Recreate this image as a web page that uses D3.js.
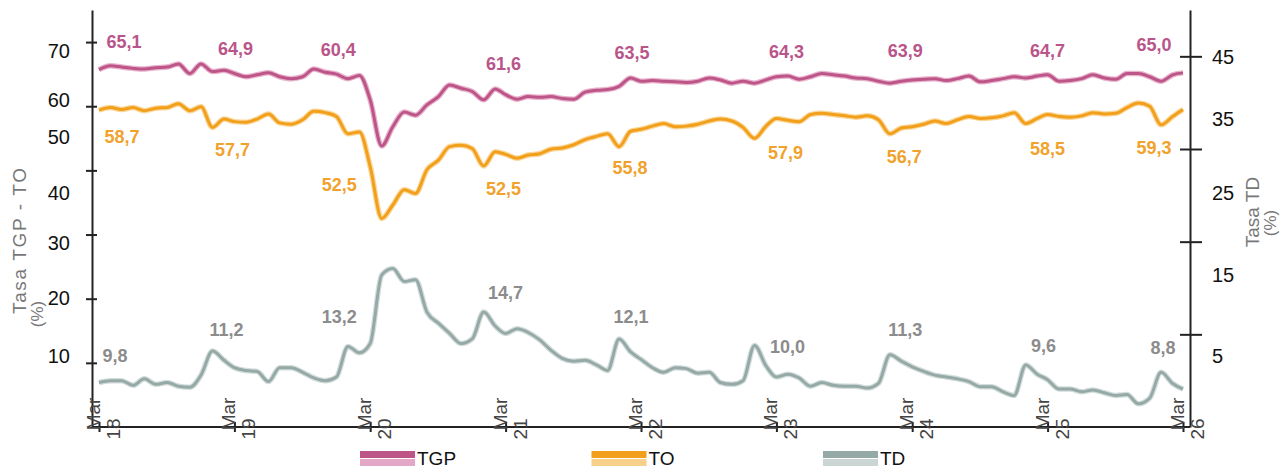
<!DOCTYPE html>
<html>
<head>
<meta charset="utf-8">
<script src="https://cdn.jsdelivr.net/npm/d3@7"></script>
<style>
body { margin: 0; background: #fff; }
svg { display: block; font-family: "Liberation Sans", Arial, sans-serif; }
</style>
</head>
<body>
<script>
// monthly series, Mar 2018 .. Mar 2026
var tgp = [65.7, 66.3, 66.1, 65.9, 65.8, 66.0, 66.1, 66.6, 65.1, 66.6, 65.4, 65.6,
    65.1, 64.6, 64.9, 65.2, 64.6, 64.3, 64.6, 65.8, 65.3, 65.0, 64.3, 64.8,
    61.0, 53.8, 56.8, 59.1, 58.6, 60.2, 61.5, 63.3, 62.8, 62.3, 61.0, 62.7,
    61.8, 61.1, 61.5, 61.4, 61.5, 61.2, 61.1, 62.2, 62.5, 62.6, 63.1, 64.4,
    63.9, 64.0, 63.9, 63.8, 63.7, 63.9, 64.4, 64.1, 63.6, 63.9, 63.6, 64.1,
    64.6, 64.7, 64.2, 64.6, 65.1, 64.9, 64.7, 64.4, 64.3, 63.9, 63.6, 63.9,
    64.1, 64.2, 64.3, 64.0, 64.3, 64.7, 63.8, 64.0, 64.3, 64.6, 64.4, 64.7,
    64.9, 63.9, 64.0, 64.3, 64.9, 64.4, 64.2, 65.1, 65.1, 64.6, 63.9, 64.9,
    65.2];
var to = [59.4, 59.8, 59.5, 59.8, 59.3, 59.7, 59.8, 60.4, 59.3, 59.9, 56.7, 58.0,
    57.6, 57.5, 58.0, 58.8, 57.4, 57.2, 57.9, 59.2, 59.0, 58.4, 55.7, 56.0,
    50.6, 42.5, 44.6, 47.0, 46.4, 50.1, 51.6, 53.7, 53.9, 53.4, 50.7, 52.9,
    52.5, 51.9, 52.4, 52.6, 53.3, 53.5, 54.0, 54.8, 55.3, 55.7, 53.7, 56.1,
    56.4, 56.9, 57.3, 56.8, 56.9, 57.2, 57.7, 58.0, 57.7, 56.7, 55.0, 56.9,
    58.1, 57.8, 57.6, 58.7, 58.9, 58.7, 58.5, 58.3, 58.5, 57.9, 55.7, 56.6,
    56.8, 57.2, 57.7, 57.3, 57.9, 58.4, 58.1, 58.2, 58.5, 59.0, 57.3, 58.1,
    58.7, 58.4, 58.3, 58.5, 59.0, 58.8, 58.9, 59.8, 60.5, 60.0, 57.1, 58.4,
    59.5];
var td = [9.8, 10.0, 10.0, 9.5, 10.2, 9.6, 9.8, 9.4, 9.3, 10.6, 13.2, 12.2,
    11.4, 11.1, 11.0, 9.9, 11.4, 11.4, 10.9, 10.3, 10.0, 10.4, 13.7, 13.0,
    14.0, 21.4, 22.1, 20.7, 20.9, 17.4, 16.2, 15.1, 14.0, 14.5, 17.4, 15.9,
    15.1, 15.6, 15.2, 14.4, 13.3, 12.4, 12.1, 12.2, 11.7, 11.1, 14.5, 13.1,
    12.3, 11.4, 10.9, 11.4, 11.3, 10.8, 10.9, 9.8, 9.6, 10.0, 13.8, 11.6,
    10.4, 10.7, 10.3, 9.4, 9.8, 9.5, 9.4, 9.4, 9.2, 9.7, 12.8, 12.1,
    11.5, 11.0, 10.6, 10.4, 10.2, 9.9, 9.35, 9.35, 8.8, 8.4, 11.7, 10.7,
    10.1, 9.1, 9.1, 8.8, 9.0, 8.7, 8.4, 8.5, 7.5, 8.1, 10.9, 9.7,
    9.1];

var tickYears = ["18", "19", "20", "21", "22", "23", "24", "25", "26"];
var leftTicks = [70, 60, 50, 40, 30, 20];
var leftTickLabels = [70, 60, 50, 40, 30, 20, 10];
var rightTicks = [45, 35, 25, 15];
var rightTickLabels = [45, 35, 25, 15, 5];

// value labels shown at each March
var tgpLabels = ["65,1", "64,9", "60,4", "61,6", "63,5", "64,3", "63,9", "64,7", "65,0"];
var toLabels = ["58,7", "57,7", "52,5", "52,5", "55,8", "57,9", "56,7", "58,5", "59,3"];
var tdLabels = ["9,8", "11,2", "13,2", "14,7", "12,1", "10,0", "11,3", "9,6", "8,8"];
var seriesNames = ["TGP", "TO", "TD"];

// label nudges from the line point (layout only)
var labelDx = [[25, 1, -32, -2, -9, 10, -7, 0, -29],
               [23, -2, -31, -2, -11, 9, -8, 0, -29],
               [16, -8, -31, 0, -10, 11, -7, -4, -20]];
var labelDy = [[-28, -25, -50, -31, -29, -25, -29, -24, -28],
               [27, 28, 18, 34, 38, 34, 30, 34, 38],
               [-27, -38, -27, -41, -43, -30, -37, -34, -41]];

var width = 1286, height = 468;
var plotLeft = 92, plotRight = 1190, plotTop = 10, plotBottom = 427;

var colors = {
    TGP: {core: "#bd5589", halo: "#e8b4cd", text: "#b9558a", light: "#e2a8c5"},
    TO:  {core: "#f29f1c", halo: "#fad79a", text: "#f1a22c", light: "#f8d08a"},
    TD:  {core: "#95a9a7", halo: "#d3dddb", text: "#8c8c8c", light: "#cbd6d4"}
};

var svg = d3.select("body").append("svg")
    .attr("width", width)
    .attr("height", height);

var firstMonth = new Date(2018, 2, 1);
var months = tgp.map(function(d, i){ return d3.timeMonth.offset(firstMonth, i); });
var marchDates = tickYears.map(function(d, i){ return d3.timeMonth.offset(firstMonth, i * 12); });

var x = d3.scaleTime()
    .domain([months[0], months[months.length - 1]])
    .range([99, 1183]);

var yL = d3.scaleLinear().domain([10, 75]).range([plotBottom, plotTop]);
var yR = d3.scaleLinear().domain([5, 50]).range([plotBottom, plotTop]);

// tick labels of the original sit off their ticks
var leftLabelY = d3.scaleLinear().domain(leftTickLabels).range([51, 100, 137, 193, 243, 298, 356]);
var rightLabelY = d3.scaleLinear().domain(rightTickLabels).range([57, 119, 193, 275, 356]);

var series = [
    {name: "TGP", values: tgp, y: yL, labels: tgpLabels},
    {name: "TO", values: to, y: yL, labels: toLabels},
    {name: "TD", values: td, y: yR, labels: tdLabels}
];

//lines: soft halo + core
series.forEach(function(s){
    var line = d3.line()
        .x(function(d, i){ return x(months[i]); })
        .y(function(d){ return s.y(d); })
        .curve(d3.curveMonotoneX);

    svg.append("path")
        .datum(s.values)
        .attr("d", line)
        .attr("fill", "none")
        .attr("stroke", colors[s.name].halo)
        .attr("stroke-width", 5.5)
        .attr("stroke-linejoin", "round");

    svg.append("path")
        .datum(s.values)
        .attr("d", line)
        .attr("fill", "none")
        .attr("stroke", colors[s.name].core)
        .attr("stroke-width", 3)
        .attr("stroke-linejoin", "round");
});

//value labels
series.forEach(function(s, k){
    svg.append("g").selectAll("text")
        .data(s.labels)
        .enter()
        .append("text")
        .attr("x", function(d, i){ return x(marchDates[i]) + labelDx[k][i]; })
        .attr("y", function(d, i){ return s.y(s.values[i * 12]) + labelDy[k][i]; })
        .attr("dy", "0.35em")
        .attr("text-anchor", "middle")
        .attr("font-size", 18)
        .attr("font-weight", "bold")
        .attr("fill", colors[s.name].text)
        .text(function(d){ return d; });
});

//axes
var axisColor = "#222";

var leftAxis = svg.append("g")
    .attr("transform", "translate(" + plotLeft + ",0)")
    .call(d3.axisLeft(yL).tickValues(leftTicks).tickSize(6).tickSizeOuter(0).tickFormat(""));
leftAxis.selectAll(".tick line").attr("x1", 5);

var rightAxis = svg.append("g")
    .attr("transform", "translate(" + plotRight + ",0)")
    .call(d3.axisRight(yR).tickValues(rightTicks).tickSize(12).tickSizeOuter(0).tickFormat(""));
rightAxis.selectAll(".tick line").attr("x1", -10);

var bottomAxis = svg.append("g")
    .attr("transform", "translate(0," + plotBottom + ")")
    .call(d3.axisBottom(x).tickValues(marchDates).tickSize(5).tickFormat(""));
bottomAxis.select(".domain").remove();
bottomAxis.selectAll(".tick line").attr("y1", -5);
bottomAxis.append("line")
    .attr("x1", plotLeft)
    .attr("x2", plotRight);

svg.selectAll(".domain, .tick line, g line")
    .attr("stroke", axisColor)
    .attr("stroke-width", 2);

//tick labels
svg.append("g").selectAll("text")
    .data(leftTickLabels)
    .enter()
    .append("text")
    .attr("x", 70)
    .attr("y", function(d){ return leftLabelY(d); })
    .attr("dy", "0.35em")
    .attr("text-anchor", "end")
    .attr("font-size", 20)
    .attr("fill", "#111")
    .text(function(d){ return d; });

svg.append("g").selectAll("text")
    .data(rightTickLabels)
    .enter()
    .append("text")
    .attr("x", 1212)
    .attr("y", function(d){ return rightLabelY(d); })
    .attr("dy", "0.35em")
    .attr("font-size", 20)
    .attr("fill", "#111")
    .text(function(d){ return d; });

var xLabels = svg.append("g").selectAll("g")
    .data(tickYears)
    .enter()
    .append("g")
    .attr("fill", "#444")
    .attr("font-size", 19);

xLabels.append("text")
    .attr("transform", function(d, i){ return "translate(" + (x(marchDates[i]) + 1) + ",414) rotate(-90)"; })
    .attr("text-anchor", "middle")
    .text("Mar");

xLabels.append("text")
    .attr("transform", function(d, i){ return "translate(" + (x(marchDates[i]) + 21) + ",429) rotate(-90)"; })
    .attr("text-anchor", "middle")
    .text(function(d){ return d; });

//axis titles
svg.append("text")
    .attr("transform", "translate(19,241) rotate(-90)")
    .attr("dy", "0.35em")
    .attr("text-anchor", "middle")
    .attr("font-size", 19)
    .attr("textLength", 146)
    .attr("lengthAdjust", "spacing")
    .attr("fill", "#777")
    .text("Tasa TGP - TO");
svg.append("text")
    .attr("transform", "translate(37,314) rotate(-90)")
    .attr("dy", "0.35em")
    .attr("text-anchor", "middle")
    .attr("font-size", 17)
    .attr("fill", "#777")
    .text("(%)");
svg.append("text")
    .attr("transform", "translate(1252,212) rotate(-90)")
    .attr("dy", "0.35em")
    .attr("text-anchor", "middle")
    .attr("font-size", 19)
    .attr("fill", "#777")
    .text("Tasa TD");
svg.append("text")
    .attr("transform", "translate(1270,223) rotate(-90)")
    .attr("dy", "0.35em")
    .attr("text-anchor", "middle")
    .attr("font-size", 17)
    .attr("fill", "#777")
    .text("(%)");

//legend
var legendX = d3.scalePoint().domain(seriesNames).range([360, 823]);
var legend = svg.append("g").selectAll("g")
    .data(seriesNames)
    .enter()
    .append("g")
    .attr("transform", function(d){ return "translate(" + legendX(d) + ",451)"; });

legend.append("rect")
    .attr("width", 55)
    .attr("height", 7)
    .attr("fill", function(d){ return colors[d].core; });
legend.append("rect")
    .attr("y", 8)
    .attr("width", 55)
    .attr("height", 7)
    .attr("fill", function(d){ return colors[d].light; });
legend.append("text")
    .attr("x", 57)
    .attr("y", 7)
    .attr("dy", "0.35em")
    .attr("font-size", 19)
    .attr("fill", "#111")
    .text(function(d){ return d; });
</script>
</body>
</html>
